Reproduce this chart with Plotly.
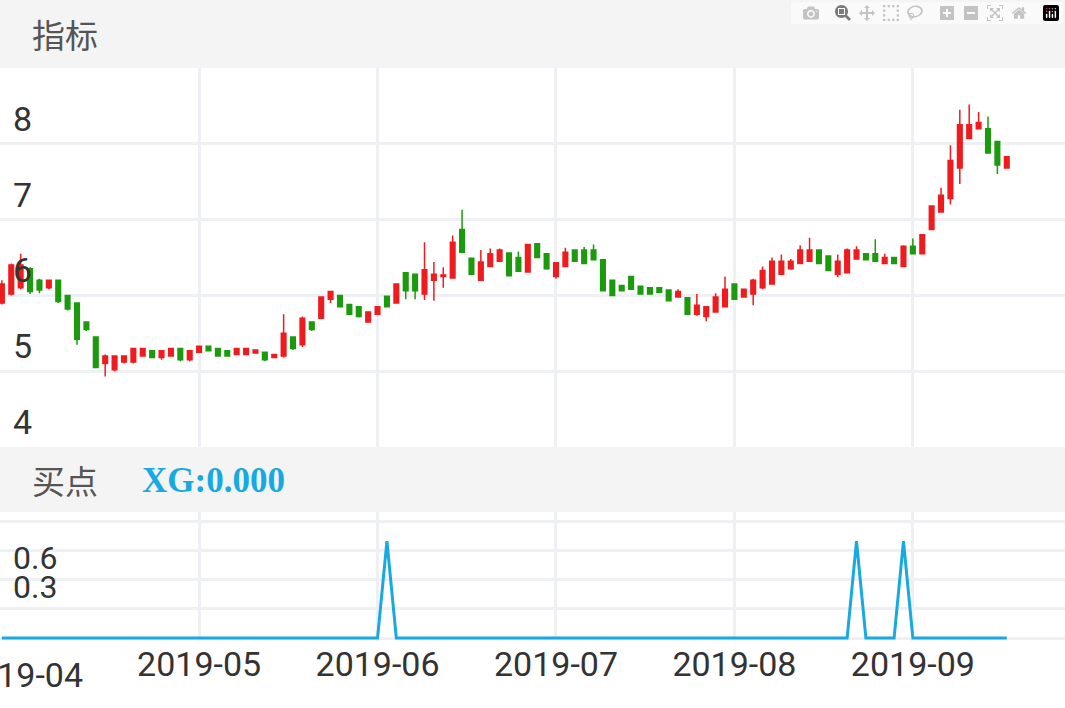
import plotly.graph_objects as go

opens = [5.9,6.02,6.1,6.35,6.2,6.1,6.2,6.0,5.9,5.65,5.45,5.1,5.02,5.12,5.12,5.2,5.27,5.18,5.2,5.3,
         5.15,5.25,5.33,5.3,5.27,5.22,5.22,5.24,5.25,5.18,5.2,5.45,5.35,5.65,5.7,5.95,6.0,5.88,5.85,5.65,
         5.75,5.99,5.9,6.3,6.28,6.02,6.2,6.25,6.23,6.87,6.49,6.2,6.38,6.45,6.56,6.5,6.31,6.68,6.55,6.25,
         6.38,6.6,6.6,6.6,6.47,6.2,6.13,6.25,6.12,6.1,6.1,6.07,5.98,5.97,5.75,5.72,5.78,5.85,6.15,5.98,
         6.02,6.1,6.15,6.28,6.35,6.42,6.45,6.6,6.52,6.28,6.3,6.48,6.55,6.55,6.42,6.5,6.38,6.65,6.55,6.87,
         7.1,7.28,7.68,8.07,8.2,8.2,8.03,7.68]
closes = [6.15,6.4,6.4,6.05,6.07,6.2,5.92,5.82,5.42,5.55,5.05,5.2,5.2,5.2,5.3,5.3,5.18,5.27,5.3,5.15,
          5.27,5.33,5.27,5.2,5.2,5.3,5.3,5.28,5.15,5.22,5.5,5.3,5.7,5.55,5.98,6.05,5.85,5.75,5.72,5.78,
          5.85,5.85,6.15,6.06,6.06,6.34,6.28,6.27,6.7,6.57,6.28,6.44,6.55,6.6,6.26,6.32,6.67,6.5,6.35,6.43,
          6.57,6.45,6.42,6.47,6.06,6.0,6.06,6.08,6.02,6.02,6.04,5.93,6.05,5.75,5.87,5.85,5.98,6.08,5.95,6.08,
          6.2,6.33,6.45,6.45,6.45,6.6,6.6,6.42,6.33,6.45,6.6,6.6,6.47,6.45,6.5,6.42,6.65,6.55,6.8,7.18,
          7.32,7.78,8.25,8.25,8.28,7.88,7.72,7.83]
highs = [6.2,6.42,6.55,6.37,6.22,6.21,6.21,6.01,5.91,5.66,5.46,5.22,5.21,5.21,5.31,5.31,5.28,5.28,5.31,5.31,
         5.28,5.34,5.34,5.31,5.28,5.31,5.31,5.29,5.26,5.23,5.75,5.46,5.72,5.66,5.99,6.06,6.01,5.89,5.86,5.79,
         5.86,6.0,6.16,6.31,6.29,6.7,6.44,6.37,6.79,7.13,6.5,6.6,6.62,6.62,6.57,6.58,6.68,6.69,6.56,6.44,
         6.63,6.61,6.64,6.67,6.48,6.21,6.14,6.26,6.13,6.11,6.11,6.08,6.08,5.98,6.02,5.86,6.03,6.25,6.16,6.09,
         6.22,6.38,6.5,6.54,6.48,6.66,6.76,6.61,6.53,6.54,6.62,6.65,6.56,6.74,6.55,6.51,6.66,6.75,6.81,7.19,
         7.42,7.98,8.45,8.52,8.42,8.36,8.04,7.84]
lows = [5.88,6.0,6.08,6.02,6.03,6.08,5.9,5.8,5.35,5.53,5.04,4.93,5.0,5.1,5.1,5.19,5.17,5.15,5.19,5.13,
        5.13,5.24,5.26,5.19,5.19,5.21,5.21,5.23,5.13,5.17,5.18,5.28,5.32,5.53,5.69,5.9,5.84,5.74,5.71,5.64,
        5.74,5.84,5.89,5.95,5.95,5.94,5.93,6.1,6.22,6.56,6.27,6.19,6.37,6.44,6.25,6.31,6.3,6.49,6.34,6.22,
        6.37,6.44,6.41,6.46,6.05,5.99,6.05,6.07,6.01,6.01,6.03,5.92,5.97,5.74,5.73,5.66,5.77,5.84,5.94,5.97,
        5.87,6.08,6.14,6.27,6.34,6.41,6.44,6.41,6.32,6.24,6.29,6.47,6.46,6.44,6.41,6.41,6.37,6.54,6.54,6.86,
        7.09,7.2,7.47,8.06,8.19,7.87,7.6,7.67]
xg = [0,0,0,0,0,0,0,0,0,0, 0,0,0,0,0,0,0,0,0,0,
      0,0,0,0,0,0,0,0,0,0, 0,0,0,0,0,0,0,0,0,0,
      0,1,0,0,0,0,0,0,0,0, 0,0,0,0,0,0,0,0,0,0,
      0,0,0,0,0,0,0,0,0,0, 0,0,0,0,0,0,0,0,0,0,
      0,0,0,0,0,0,0,0,0,0, 0,1,0,0,0,0,1,0,0,0,
      0,0,0,0,0,0,0,0]
month_idx = [2, 21, 40, 59, 78, 97]
month_labels = ["2019-04", "2019-05", "2019-06", "2019-07", "2019-08", "2019-09"]
price_ticks = [4, 5, 6, 7, 8]
xg_ticks = [0, 0.3, 0.6, 0.9, 1.2]
xg_labels = ["", "0.3", "0.6", "0.9", ""]

idx = list(range(len(opens)))
RED, GREEN, BLUE = "#ee1c1f", "#1c9a0e", "#17a9e1"
GRID = "#eff0f3"

fig = go.Figure()
fig.add_trace(go.Candlestick(
    x=idx, open=opens, high=highs, low=lows, close=closes,
    increasing=dict(line=dict(color=RED, width=1.5), fillcolor=RED),
    decreasing=dict(line=dict(color=GREEN, width=1.5), fillcolor=GREEN),
    whiskerwidth=0, xaxis="x", yaxis="y", showlegend=False))
fig.add_trace(go.Scatter(x=idx, y=xg, mode="lines", line=dict(color=BLUE, width=3),
                         xaxis="x2", yaxis="y2", showlegend=False))

xcommon = dict(range=[-0.2, 113.2], tickvals=month_idx, showgrid=True, gridcolor=GRID,
               gridwidth=3, zeroline=False, showline=False, ticks="")
# first month label is partly cut off at the left edge, drawn as an annotation
x2_ticktext = [""] + month_labels[1:]
fig.update_layout(
    width=1065, height=708, margin=dict(l=0, r=0, t=0, b=0),
    paper_bgcolor="white", plot_bgcolor="white",
    font=dict(family="Roboto, Noto Sans CJK SC", color="#333333", size=28),
    xaxis=dict(**xcommon, domain=[0, 1], anchor="y", showticklabels=False, rangeslider=dict(visible=False)),
    yaxis=dict(domain=[1 - 447/708, 1 - 68/708], range=[4, 9], tickvals=price_ticks,
               showgrid=True, gridcolor=GRID, gridwidth=3, zeroline=False,
               ticklabelposition="inside", ticklabelshift=-25, ticklabelstandoff=10,
               tickfont=dict(size=34, color="#333")),
    xaxis2=dict(**xcommon, domain=[0, 1], anchor="y2", ticktext=x2_ticktext,
                tickfont=dict(size=34, color="#333")),
    yaxis2=dict(domain=[1 - 641/708, 1 - 512/708], range=[-0.03, 1.3], tickvals=xg_ticks,
                ticktext=xg_labels, showgrid=True, gridcolor=GRID, gridwidth=3, zeroline=False,
                ticklabelposition="inside", ticklabelshift=-22, ticklabelstandoff=10,
                tickfont=dict(size=32, color="#333")),
    shapes=[
        dict(type="rect", xref="paper", yref="paper", x0=0, x1=1, y0=1 - 68/708, y1=1,
             fillcolor="#f4f4f4", line=dict(width=0), layer="above"),
        dict(type="rect", xref="paper", yref="paper", x0=0, x1=1, y0=1 - 512/708, y1=1 - 447/708,
             fillcolor="#f4f4f4", line=dict(width=0), layer="above"),
    ],
    annotations=[
        dict(text="指标", xref="paper", yref="paper", x=30/1065, y=1 - 34/708, xanchor="left",
             yanchor="middle", showarrow=False, font=dict(size=33, color="#555", family="Noto Sans CJK SC")),
        dict(text="买点", xref="paper", yref="paper", x=30/1065, y=1 - 480/708, xanchor="left",
             yanchor="middle", showarrow=False, font=dict(size=33, color="#555", family="Noto Sans CJK SC")),
        dict(text="<b>XG:0.000</b>", xref="paper", yref="paper", x=140/1065, y=1 - 480/708, xanchor="left",
             yanchor="middle", showarrow=False, font=dict(size=35, color=BLUE, family="Liberation Serif")),
        dict(text=month_labels[0], xref="x2", yref="paper", x=month_idx[0], y=1 - 675/708,
             xanchor="center", yanchor="middle", showarrow=False, font=dict(size=34, color="#333")),
    ],
)
fig.write_html("out.html", post_script="document.body.style.margin='0';document.body.style.overflow='hidden';")
